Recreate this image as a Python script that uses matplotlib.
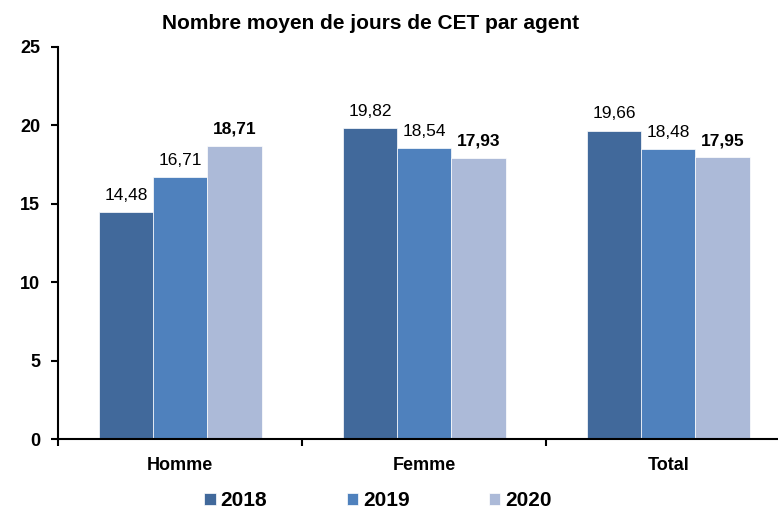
import numpy as np
import matplotlib.pyplot as plt

# data
categories = ['Homme', 'Femme', 'Total']
years = ['2018', '2019', '2020']
v2018 = [14.48, 19.82, 19.66]
v2019 = [16.71, 18.54, 18.48]
v2020 = [18.71, 17.93, 17.95]

colors = ['#41699b', '#4f81bd', '#acbad8']

plt.rcParams['font.family'] = ['Liberation Sans', 'DejaVu Sans']

fig = plt.figure(figsize=(7.78, 5.12), dpi=100)
ax = fig.add_axes([58.3/778, 72.7/512, 732/778, 392.5/512])

x = np.arange(len(categories))
w = 0.222
series = [v2018, v2019, v2020]
for i, (vals, yr) in enumerate(zip(series, years)):
    pos = x + (i - 1) * w
    ax.bar(pos, vals, width=w, color=colors[i], edgecolor='white', linewidth=0.5, label=yr)
    for p, v in zip(pos, vals):
        ax.text(p, v + 0.6, f'{v:.2f}'.replace('.', ','), ha='center', va='bottom',
                fontsize=12.5, fontweight='bold' if i == 2 else 'normal')

ax.set_xlim(-0.5, 2.5)
ax.set_ylim(0, 25)
ax.set_yticks([0, 5, 10, 15, 20, 25])
ax.set_xticks(x)
ax.set_xticklabels(categories, fontsize=13, fontweight='bold')
ax.set_xticks([-0.5, 0.5, 1.5, 2.5], minor=True)
ax.tick_params(axis='x', which='major', length=0, pad=13)
ax.tick_params(axis='x', which='minor', length=5, width=1.5, direction='out')
ax.tick_params(axis='y', length=5, width=1.5, direction='out', pad=8)
for lab in ax.get_yticklabels():
    lab.set_fontweight('bold')
    lab.set_fontsize(13)

for s in ['top', 'right']:
    ax.spines[s].set_visible(False)
ax.spines['left'].set_linewidth(1.5)
ax.spines['bottom'].set_linewidth(1.5)

fig.text(0.476, 0.955, 'Nombre moyen de jours de CET par agent', ha='center', va='center',
         fontsize=15, fontweight='bold')

fig.legend(loc='center', bbox_to_anchor=(0.486, 0.022), ncol=3, frameon=False,
           prop={'weight': 'bold', 'size': 15}, handlelength=0.55, handleheight=0.55,
           handletextpad=0.25, columnspacing=3.8)

fig.savefig('out.png', dpi=100)
